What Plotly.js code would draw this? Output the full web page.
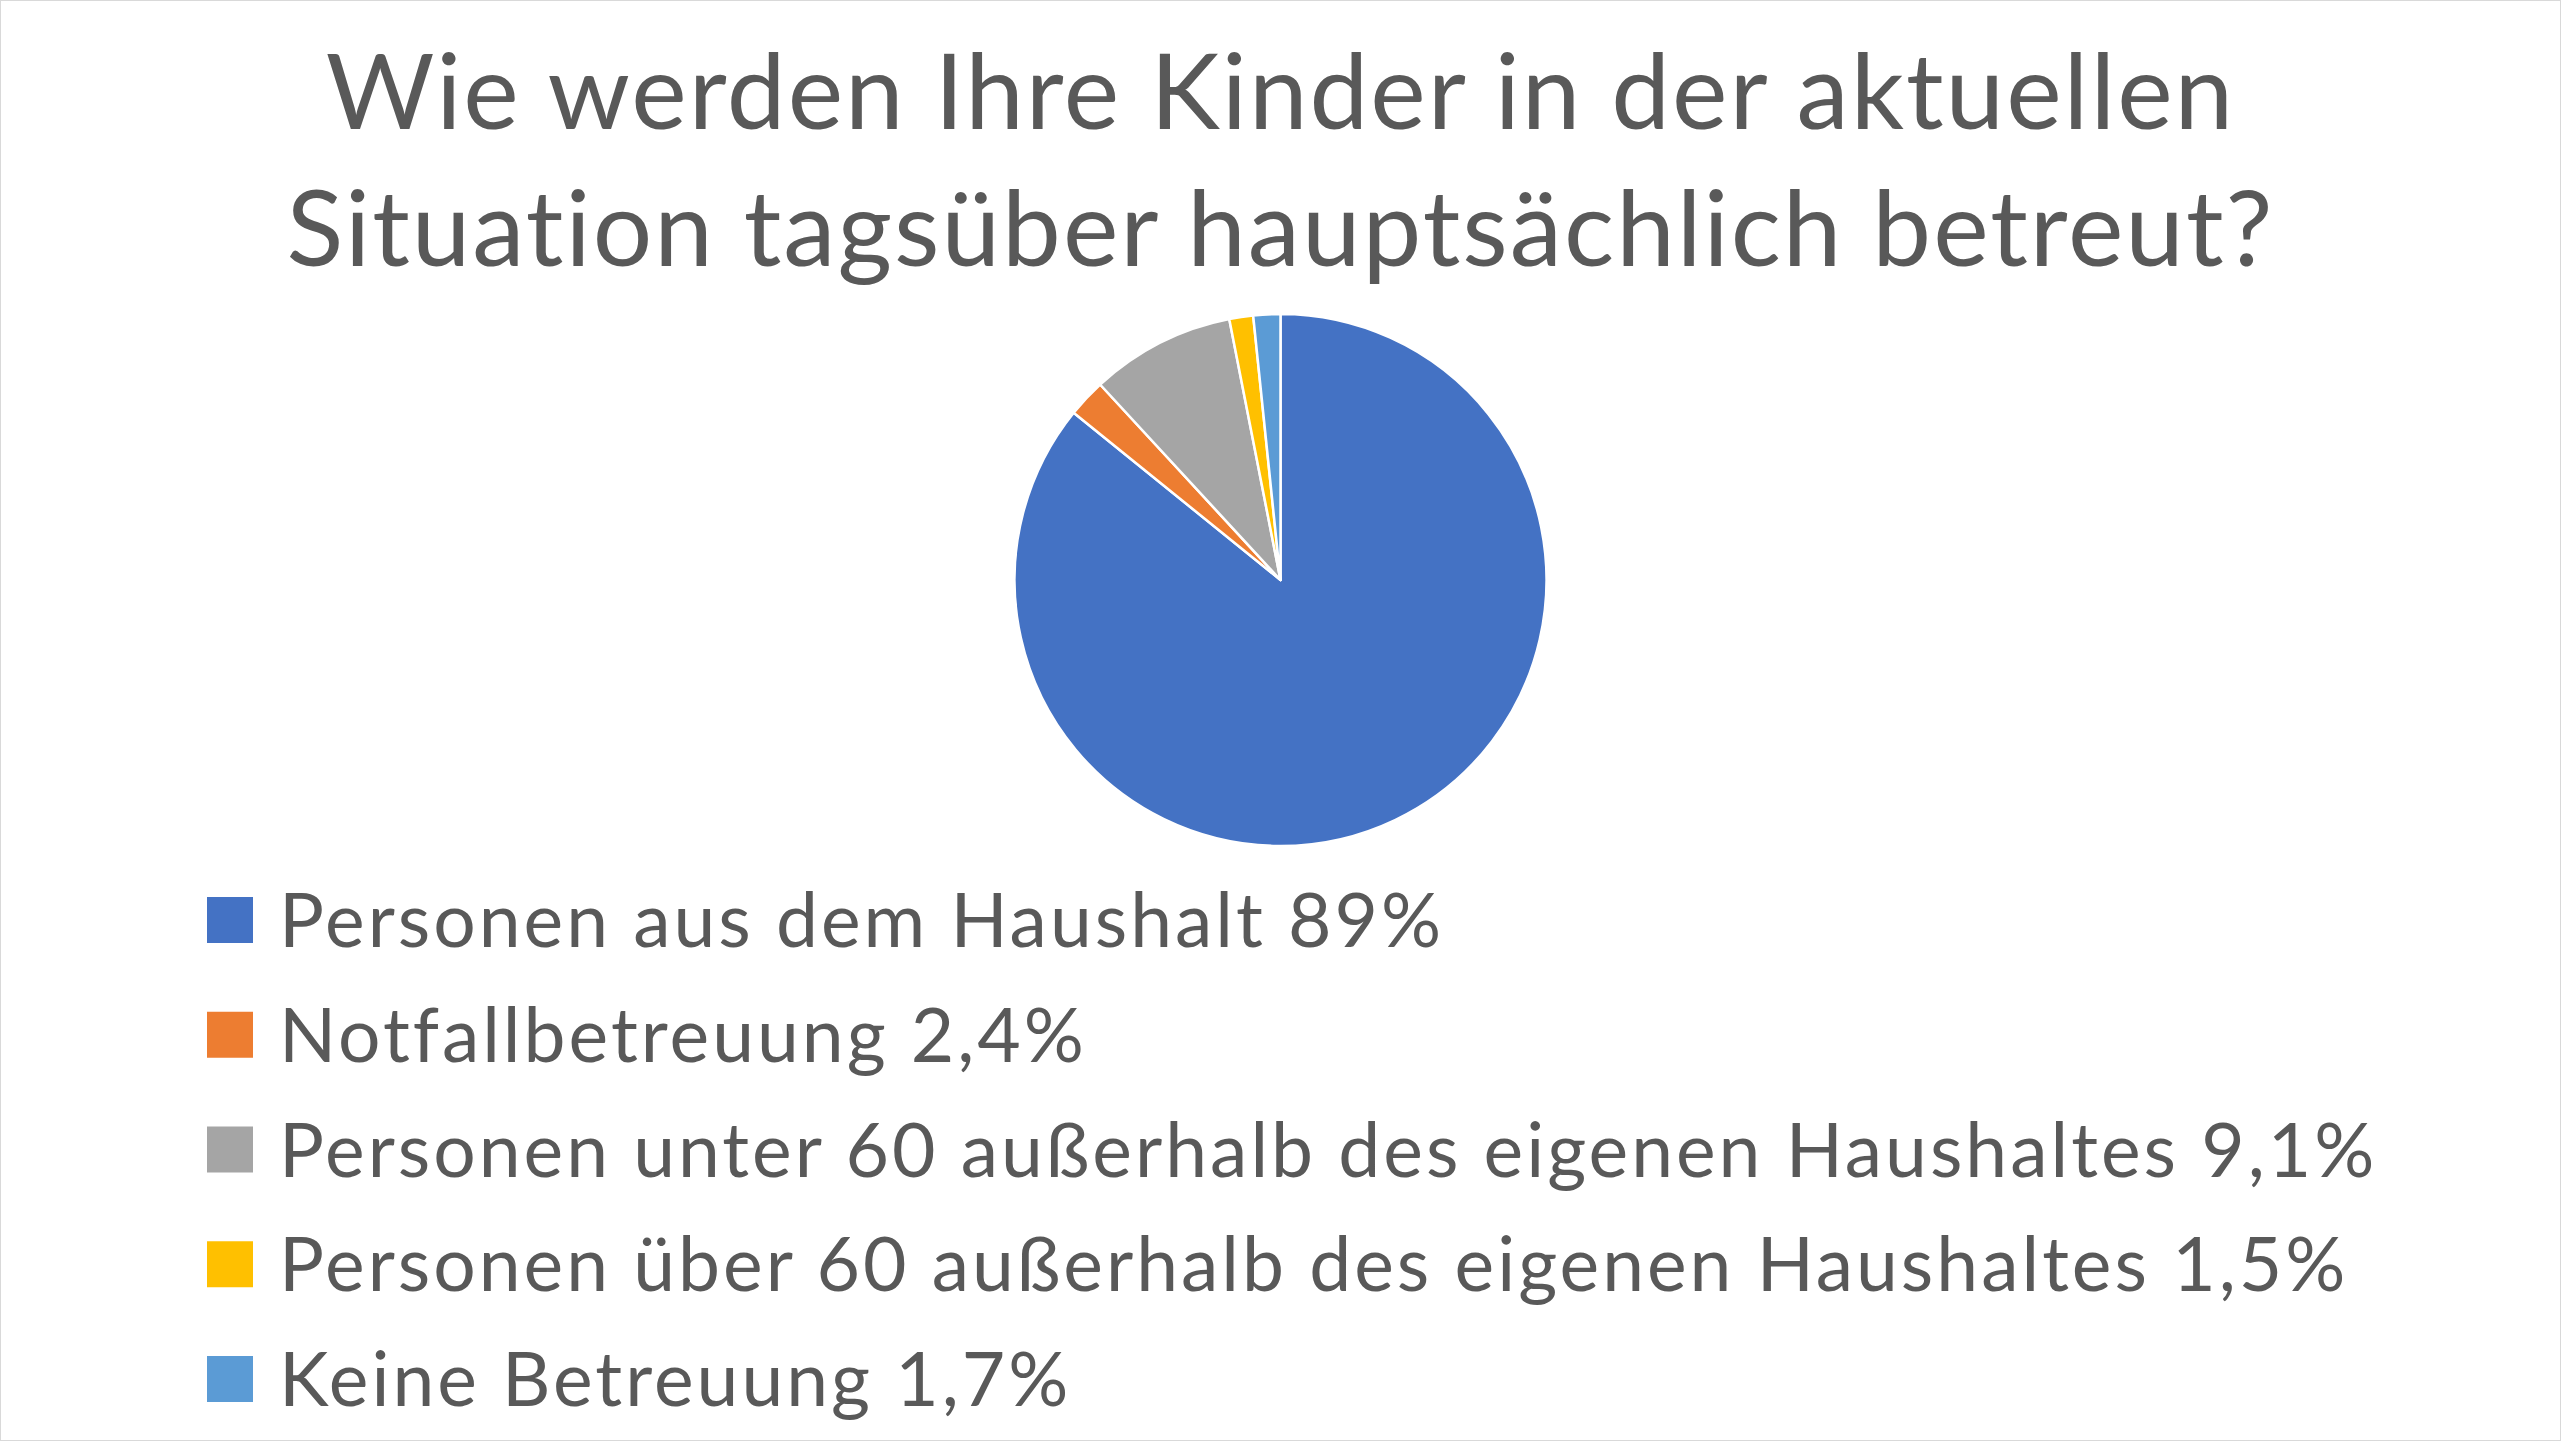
<!DOCTYPE html>
<html>
<head>
<meta charset="utf-8">
<script src="https://cdn.plot.ly/plotly-3.0.1.min.js"></script>
<style>
  html, body { margin: 0; padding: 0; background: #ffffff; }
  #chart { width: 2561px; height: 1441px; }
  #chart text { font-variant-ligatures: none; font-feature-settings: "liga" 0, "clig" 0; }
  #chart .gtitle { letter-spacing: 2px; }
  #chart .annotation-text { letter-spacing: 3px; }
</style>
</head>
<body>
<div id="chart"></div>
<script>
// ---- data ----
const categories = [
  "Personen aus dem Haushalt",
  "Notfallbetreuung",
  "Personen unter 60 außerhalb des eigenen Haushaltes",
  "Personen über 60 außerhalb des eigenen Haushaltes",
  "Keine Betreuung"
];
const values = [89, 2.4, 9.1, 1.5, 1.7];
const valueLabels = ["89%", "2,4%", "9,1%", "1,5%", "1,7%"];
const colors = ["#4472C4", "#ED7D31", "#A5A5A5", "#FFC000", "#5B9BD5"];
const titleText = "Wie werden Ihre Kinder in der aktuellen<br>Situation tagsüber hauptsächlich betreut?";

// ---- layout helpers ----
const W = 2561, H = 1441;
const px = x => x / W;
const py = y => 1 - y / H;

const pieCx = 1280.5, pieCy = 580, pieR = 266;

const legendSquareX0 = 207, legendSquareSize = 46;
const legendTextX = 278;
const legendRow0 = 918, legendRowStep = 114.75;
const fontFamily = "Lato, Carlito, 'Open Sans', sans-serif";

const annotations = [];
const shapes = [];
categories.forEach((c, i) => {
  const cy = legendRow0 + i * legendRowStep;
  shapes.push({
    type: "rect", xref: "paper", yref: "paper",
    x0: px(legendSquareX0), x1: px(legendSquareX0 + legendSquareSize),
    y0: py(cy + 2 - legendSquareSize / 2), y1: py(cy + 2 + legendSquareSize / 2),
    fillcolor: colors[i], line: { width: 0 }
  });
  annotations.push({
    xref: "paper", yref: "paper",
    x: px(legendTextX), y: py(cy),
    xanchor: "left", yanchor: "middle", align: "left",
    borderpad: 0,
    text: c + " " + valueLabels[i],
    showarrow: false,
    font: { family: fontFamily, size: 75, color: "#595959" }
  });
});
shapes.push({
  type: "rect", xref: "paper", yref: "paper",
  x0: 0, x1: 1, y0: 0, y1: 1,
  line: { color: "#d9d9d9", width: 2 }, fillcolor: "rgba(0,0,0,0)"
});

const data = [{
  type: "pie",
  labels: categories,
  values: values,
  sort: false,
  direction: "clockwise",
  rotation: 0,
  marker: { colors: colors, line: { color: "#ffffff", width: 2.5 } },
  textinfo: "none",
  showlegend: false,
  domain: { x: [px(pieCx - pieR), px(pieCx + pieR)], y: [py(pieCy + pieR), py(pieCy - pieR)] }
}];

const layout = {
  width: W, height: H,
  margin: { l: 0, r: 0, t: 0, b: 0, pad: 0 },
  paper_bgcolor: "#ffffff",
  plot_bgcolor: "#ffffff",
  showlegend: false,
  title: {
    text: titleText,
    x: 0.5, xanchor: "center",
    yref: "container", y: 1 - 129 / H, yanchor: "top",
    font: { family: fontFamily, size: 105, color: "#595959" }
  },
  annotations: annotations,
  shapes: shapes
};

Plotly.newPlot("chart", data, layout, { staticPlot: true, displayModeBar: false });
</script>
</body>
</html>
